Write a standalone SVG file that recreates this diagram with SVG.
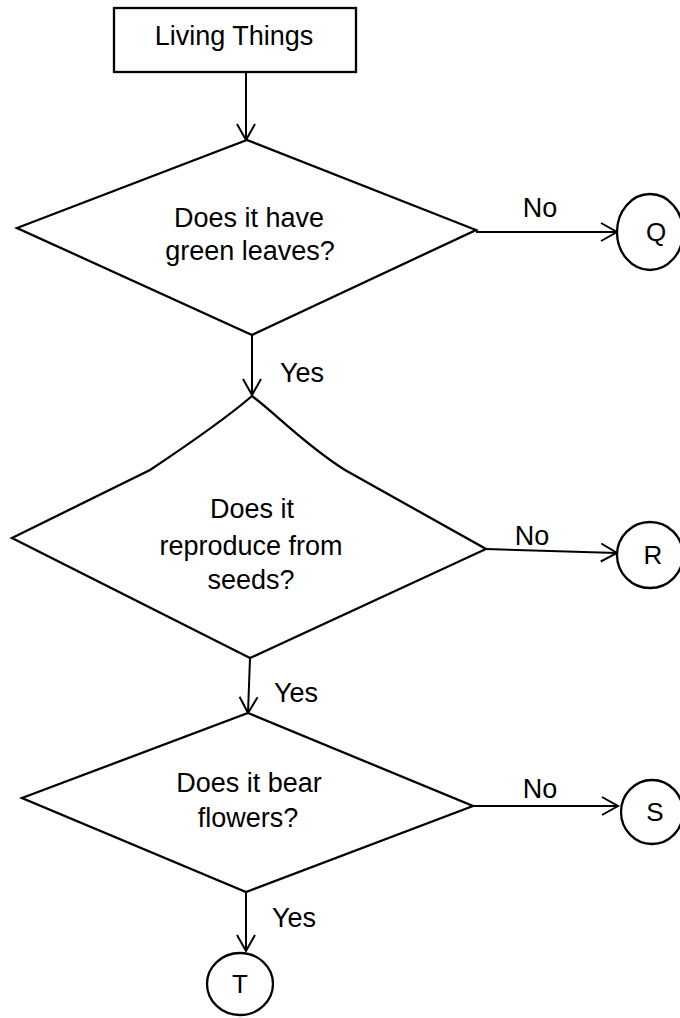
<svg xmlns="http://www.w3.org/2000/svg" width="680" height="1018" viewBox="0 0 680 1018">
<style>
.shape{fill:#fff;stroke:#000;stroke-width:2.3;stroke-linejoin:miter}
.edge{fill:none;stroke:#000;stroke-width:2}
text{font-family:"Liberation Sans",Arial,sans-serif;font-size:27px;fill:#000;text-anchor:middle}
.lbl{font-size:26px}
</style>
<defs>
<marker id="arr" markerUnits="userSpaceOnUse" markerWidth="22" markerHeight="22" refX="17" refY="10" orient="auto">
<path d="M1,1 L17,10 L1,19" fill="none" stroke="#000" stroke-width="2"/>
</marker>
</defs>
<rect width="680" height="1018" fill="#fff"/>
<g id="connectors">
<line class="edge" x1="246" y1="72" x2="246" y2="140" marker-end="url(#arr)"/>
<line class="edge" x1="476" y1="232" x2="617" y2="232" marker-end="url(#arr)"/>
<line class="edge" x1="252" y1="335" x2="252" y2="395" marker-end="url(#arr)"/>
<line class="edge" x1="486" y1="549" x2="617" y2="553" marker-end="url(#arr)"/>
<line class="edge" x1="250" y1="658" x2="248" y2="713" marker-end="url(#arr)"/>
<line class="edge" x1="473" y1="806" x2="618" y2="806" marker-end="url(#arr)"/>
<line class="edge" x1="246" y1="892" x2="246" y2="951" marker-end="url(#arr)"/>
<text x="540" y="217">No</text>
<text x="302" y="382">Yes</text>
<text x="532" y="545">No</text>
<text x="296" y="702">Yes</text>
<text x="540" y="798">No</text>
<text x="294" y="927">Yes</text>
</g>
<g id="start">
<rect class="shape" x="114" y="8" width="242" height="64"/>
<text x="234" y="45">Living Things</text>
</g>
<g id="q1">
<polygon class="shape" points="247,140 476,230 252,335 17,228"/>
<text x="249" y="227">Does it have</text>
<text x="250" y="260">green leaves?</text>
</g>
<g id="q2">
<path class="shape" d="M252,396 C275,413 305,445 345,470 L486,549 L250,658 L12,538 L150,470 C195,440 230,415 252,396 Z"/>
<text x="252" y="518">Does it</text>
<text x="251" y="555">reproduce from</text>
<text x="251" y="589">seeds?</text>
</g>
<g id="q3">
<polygon class="shape" points="248,713 473,806 246,892 22,798"/>
<text x="249" y="792">Does it bear</text>
<text x="248" y="827">flowers?</text>
</g>
<g id="Q">
<ellipse class="shape" cx="650" cy="232" rx="33" ry="38"/>
<text class="lbl" x="656" y="241">Q</text>
</g>
<g id="R">
<ellipse class="shape" cx="650" cy="555" rx="33" ry="33"/>
<text class="lbl" x="653" y="564">R</text>
</g>
<g id="S">
<ellipse class="shape" cx="652" cy="812" rx="31" ry="32"/>
<text class="lbl" x="655" y="821">S</text>
</g>
<g id="T">
<ellipse class="shape" cx="240" cy="984" rx="33" ry="31"/>
<text class="lbl" x="240" y="993">T</text>
</g>
</svg>
